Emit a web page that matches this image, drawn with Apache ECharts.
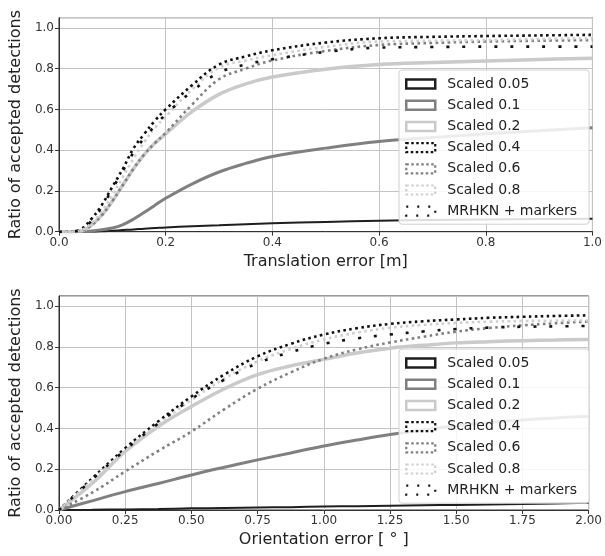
<!DOCTYPE html>
<html>
<head>
<meta charset="utf-8">
<script src="https://cdn.jsdelivr.net/npm/echarts@6/dist/echarts.min.js"></script>
<style>
	html, body { margin: 0; padding: 0; background: #fff; }
	#chart { width: 605px; height: 556px; }
</style>
</head>
<body>
<div id="chart"></div>
<script>
// translation error [m]
var transX = [0, 0.02, 0.04, 0.06, 0.08, 0.1, 0.12, 0.14, 0.16, 0.18, 0.2, 0.25, 0.3, 0.35, 0.4, 0.5, 0.6, 0.7, 0.8, 0.9, 1.0]
var transS005 = [0, 0, 0, 0, 0.002, 0.005, 0.008, 0.011, 0.015, 0.018, 0.021, 0.027, 0.032, 0.037, 0.041, 0.048, 0.054, 0.058, 0.06, 0.062, 0.064]
var transS01 = [0, 0, 0, 0.003, 0.01, 0.018, 0.035, 0.062, 0.095, 0.13, 0.164, 0.235, 0.293, 0.335, 0.369, 0.41, 0.443, 0.462, 0.48, 0.495, 0.51]
var transS02 = [0, 0, 0.003, 0.03, 0.08, 0.15, 0.23, 0.31, 0.38, 0.435, 0.48, 0.59, 0.674, 0.725, 0.759, 0.797, 0.82, 0.83, 0.838, 0.845, 0.851]
var transS04 = [0, 0, 0.01, 0.06, 0.13, 0.22, 0.31, 0.41, 0.48, 0.545, 0.6, 0.72, 0.82, 0.86, 0.89, 0.928, 0.949, 0.956, 0.96, 0.963, 0.966]
var transS06 = [0, 0, 0.003, 0.03, 0.08, 0.15, 0.23, 0.31, 0.38, 0.435, 0.485, 0.625, 0.748, 0.8, 0.84, 0.887, 0.916, 0.926, 0.933, 0.937, 0.94]
var transS08 = [0, 0, 0.006, 0.04, 0.1, 0.18, 0.27, 0.36, 0.44, 0.51, 0.565, 0.7, 0.805, 0.84, 0.866, 0.907, 0.933, 0.937, 0.94, 0.945, 0.949]
var transMrhkn = [0, 0, 0.01, 0.05, 0.12, 0.21, 0.3, 0.39, 0.46, 0.52, 0.575, 0.69, 0.78, 0.82, 0.846, 0.882, 0.903, 0.906, 0.908, 0.908, 0.908]

// orientation error [deg]
var orientX = [0, 0.125, 0.25, 0.375, 0.5, 0.625, 0.75, 0.875, 1.0, 1.125, 1.25, 1.375, 1.5, 1.625, 1.75, 1.875, 2.0]
var orientS005 = [0, 0.001, 0.003, 0.005, 0.008, 0.01, 0.012, 0.014, 0.017, 0.019, 0.021, 0.023, 0.025, 0.027, 0.029, 0.032, 0.035]
var orientS01 = [0, 0.045, 0.09, 0.13, 0.172, 0.21, 0.246, 0.28, 0.314, 0.343, 0.37, 0.393, 0.413, 0.429, 0.442, 0.452, 0.46]
var orientS02 = [0, 0.13, 0.287, 0.41, 0.508, 0.595, 0.664, 0.707, 0.739, 0.77, 0.794, 0.808, 0.82, 0.826, 0.831, 0.834, 0.837]
var orientS04 = [0, 0.155, 0.303, 0.435, 0.557, 0.665, 0.754, 0.815, 0.861, 0.892, 0.913, 0.926, 0.935, 0.943, 0.948, 0.952, 0.955]
var orientS06 = [0, 0.085, 0.189, 0.29, 0.385, 0.495, 0.595, 0.675, 0.742, 0.788, 0.822, 0.85, 0.875, 0.893, 0.906, 0.916, 0.925]
var orientS08 = [0, 0.145, 0.29, 0.42, 0.54, 0.645, 0.73, 0.79, 0.837, 0.87, 0.894, 0.908, 0.918, 0.924, 0.927, 0.929, 0.93]
var orientMrhkn = [0, 0.15, 0.295, 0.425, 0.545, 0.64, 0.72, 0.775, 0.815, 0.842, 0.861, 0.876, 0.888, 0.895, 0.899, 0.901, 0.903]

var names = ['Scaled 0.05', 'Scaled 0.1', 'Scaled 0.2', 'Scaled 0.4', 'Scaled 0.6', 'Scaled 0.8', 'MRHKN + markers']

var FONT = 'DejaVu Sans'
// line looks, same order as names
var looks = [
	{ color: '#1e1e1e', width: 2, type: 'solid' },
	{ color: '#808080', width: 3, type: 'solid' },
	{ color: '#cacaca', width: 3.5, type: 'solid' },
	{ color: '#111111', width: 2.6, type: [2.6, 3.4] },
	{ color: '#808080', width: 2.6, type: [2.6, 3.4] },
	{ color: '#cfcfcf', width: 2.6, type: [2.6, 3.4] },
	{ color: '#111111', width: 2.6, type: [3, 13] }
]

function pairs(xs, ys) {
	return xs.map(function(x, i) { return [x, ys[i]] })
}

function makeSeries(idx, xs, list) {
	return list.map(function(ys, i) {
		return {
			name: names[i],
			type: 'line',
			xAxisIndex: idx,
			yAxisIndex: idx,
			showSymbol: false,
			symbol: 'none',
			smooth: 0.4,
			z: 2 + i,
			lineStyle: { color: looks[i].color, width: looks[i].width, type: looks[i].type, cap: 'butt' },
			itemStyle: { color: looks[i].color },
			data: pairs(xs, ys)
		}
	})
}

function makeLegend(top) {
	return {
		orient: 'vertical',
		left: 399,
		top: top,
		icon: 'rect',
		itemWidth: 29,
		itemHeight: 9,
		itemGap: 5.2,
		padding: [6, 12, 5, 6],
		backgroundColor: 'rgba(255,255,255,0.85)',
		borderColor: '#d0d0d0',
		borderWidth: 1,
		borderRadius: 3,
		selectedMode: false,
		textStyle: { fontFamily: FONT, fontSize: 14, lineHeight: 16, color: '#222', padding: [0, 0, 0, 7] },
		data: names.map(function(n, i) {
			return {
				name: n,
				itemStyle: {
					color: 'rgba(255,255,255,0)',
					borderColor: looks[i].color,
					borderWidth: i < 3 ? 2.5 : 2.2,
					borderType: i < 3 ? 'solid' : (i == 6 ? [2, 9] : [2.5, 2.5])
				}
			}
		})
	}
}

function makeXAxis(idx, max, interval, name, digits) {
	return {
		type: 'value',
		gridIndex: idx,
		min: 0,
		max: max,
		interval: interval,
		name: name,
		nameLocation: 'middle',
		nameGap: 22,
		nameTextStyle: { fontFamily: FONT, fontSize: 16, color: '#222' },
		axisLine: { show: true, onZero: false, lineStyle: { color: '#333', width: 1 } },
		axisTick: { show: true, length: 4, lineStyle: { color: '#333' } },
		axisLabel: {
			fontFamily: FONT, fontSize: 12, color: '#333', margin: 5,
			formatter: function(v) { return v.toFixed(digits) }
		},
		splitLine: { show: true, lineStyle: { color: '#c4c4c4', width: 1 } }
	}
}

function makeYAxis(idx) {
	return {
		type: 'value',
		gridIndex: idx,
		min: 0,
		max: 1.05,
		interval: 0.2,
		name: 'Ratio of accepted detections',
		nameLocation: 'middle',
		nameGap: 30,
		nameTextStyle: { fontFamily: FONT, fontSize: 16, color: '#222' },
		axisLine: { show: true, lineStyle: { color: '#333', width: 1 } },
		axisTick: { show: true, length: 4, lineStyle: { color: '#333' } },
		axisLabel: {
			fontFamily: FONT, fontSize: 12, color: '#333', margin: 5,
			showMaxLabel: false,
			formatter: function(v) { return v.toFixed(1) }
		},
		splitLine: { show: true, lineStyle: { color: '#c4c4c4', width: 1 } }
	}
}

var option = {
	backgroundColor: '#fff',
	animation: false,
	grid: [
		{ left: 57.5, right: 12, top: 17.7, height: 214, show: true, borderColor: '#333', borderWidth: 1, backgroundColor: 'transparent' },
		{ left: 55, right: 12, top: 296, height: 214, show: true, borderColor: '#333', borderWidth: 1, backgroundColor: 'transparent' }
	],
	legend: [makeLegend(70), makeLegend(349)],
	xAxis: [
		makeXAxis(0, 1, 0.2, 'Translation error [m]', 1),
		makeXAxis(1, 2, 0.25, 'Orientation error [ ° ]', 2)
	],
	yAxis: [makeYAxis(0), makeYAxis(1)],
	series: makeSeries(0, transX, [transS005, transS01, transS02, transS04, transS06, transS08, transMrhkn])
		.concat(makeSeries(1, orientX, [orientS005, orientS01, orientS02, orientS04, orientS06, orientS08, orientMrhkn]))
}

var myChart = echarts.init(document.getElementById('chart'))
myChart.setOption(option)
</script>
</body>
</html>
